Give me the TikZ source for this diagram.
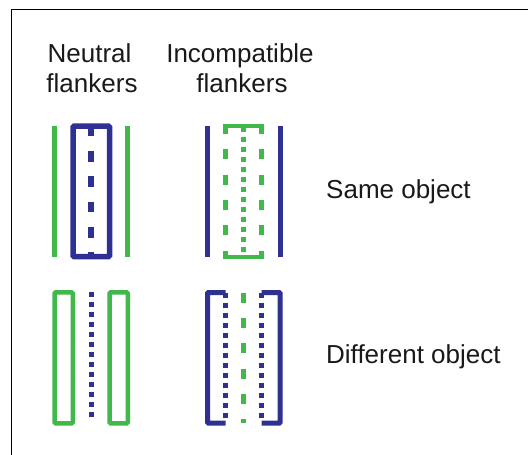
\documentclass[tikz,border=0pt]{standalone}
\usepackage{fontspec}
\setmainfont{Liberation Sans}
\definecolor{fblue}{RGB}{46,49,146}
\definecolor{fgreen}{RGB}{64,184,74}
\begin{document}
\begin{tikzpicture}[x=1pt,y=-1pt,
  lbl/.style={font=\fontsize{26}{30}\selectfont, text=black!90, inner sep=0pt},
  bsolid/.style={draw=fblue, line width=5.5pt},
  gsolid/.style={draw=fgreen, line width=4.5pt},
  bdash/.style={draw=fblue, line width=6pt, dash pattern=on 10.7pt off 14.6pt},
  gdash/.style={draw=fgreen, line width=4.6pt, dash pattern=on 10pt off 15.3pt},
  bdot/.style={draw=fblue, line width=5pt, dash pattern=on 5pt off 5pt},
  gdot/.style={draw=fgreen, line width=5pt, dash pattern=on 5pt off 5pt},
  frame/.style={draw=black, line width=1.3pt}]
\useasboundingbox (0,0) rectangle (528,455);
% frame
\coordinate (fa) at (11.7,455);
\coordinate (fb) at (11.7,9.6);
\coordinate (fc) at (528,9.6);
\draw[frame] (fa) -- (fb) -- (fc);
% headings
\node[lbl, anchor=base] (n1) at (89.5,62.3) {Neutral};
\node[lbl, anchor=base] (n2) at (92,92.7) {flankers};
\node[lbl, anchor=base] (i1) at (240,62.3) {Incompatible};
\node[lbl, anchor=base] (i2) at (242,92.7) {flankers};
\node[lbl, anchor=base west] (so) at (326,198.3) {Same object};
\node[lbl, anchor=base west] (do) at (326,363.4) {Different object};
% ---- top-left: neutral / same
\draw[gsolid] (54.3,126) -- (54.3,257);
\draw[gsolid] (127.7,126) -- (127.7,257);
\draw[bsolid, rounded corners=1.2pt] (73,126) rectangle (109.5,256.7);
\draw[bdash] (91,125.7) -- (91,256);
% ---- top-right: incompatible / same
\draw[draw=fblue, line width=5pt] (207.5,126) -- (207.5,257);
\draw[draw=fblue, line width=5pt] (280.2,126) -- (280.2,257);
\draw[gsolid] (225.5,126.2) -- (262,126.2);
\draw[gsolid] (225.5,256.8) -- (262,256.8);
\draw[gdash] (225.7,124) -- (225.7,259);
\draw[gdash] (261.7,124) -- (261.7,259);
\draw[gdot] (243.5,126.7) -- (243.5,252);
% ---- bottom-left: neutral / different
\draw[gsolid, rounded corners=1.2pt] (54.5,292.3) rectangle (72.8,423.3);
\draw[gsolid, rounded corners=1.2pt] (109.5,292.3) rectangle (127.8,423.3);
\draw[bdot] (91,292.3) -- (91,419);
% ---- bottom-right: incompatible / different
\draw[draw=fblue, line width=5pt, rounded corners=1pt] (225.7,292.5) -- (207.5,292.5) -- (207.5,423.2) -- (225.7,423.2);
\draw[draw=fblue, line width=5pt, rounded corners=1pt] (261.7,292.5) -- (280.2,292.5) -- (280.2,423.2) -- (261.7,423.2);
\draw[bdot] (225.8,292.7) -- (225.8,419);
\draw[bdot] (261.7,292.7) -- (261.7,419);
\draw[gdash] (243.5,292.7) -- (243.5,422.7);
\end{tikzpicture}
\end{document}
